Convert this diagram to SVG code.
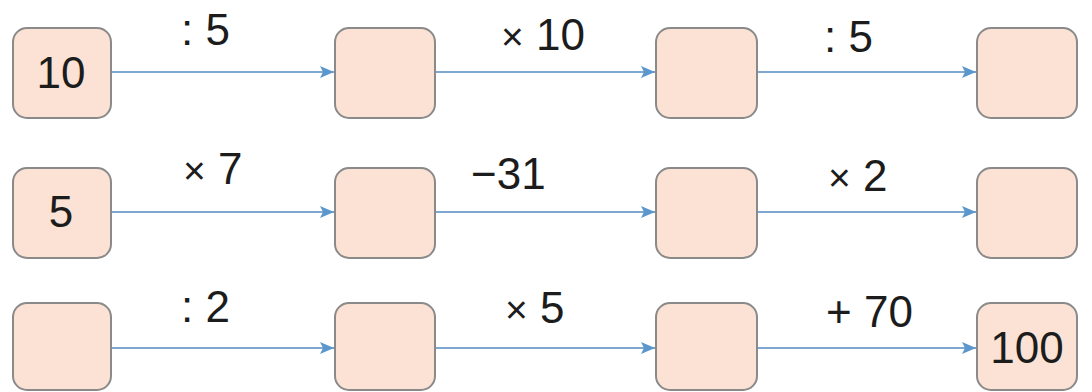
<svg xmlns="http://www.w3.org/2000/svg" width="1092" height="392" viewBox="0 0 1092 392">
<style>
.box{fill:#fbe2d4;stroke:#8a8a8a;stroke-width:2}
.num{font-family:"Liberation Sans",Arial,sans-serif;font-size:44px;fill:#1c1c1c;text-anchor:middle}
.lbl{font-family:"Liberation Sans",Arial,sans-serif;font-size:44px;fill:#1c1c1c}
.x{font-size:39px}
.edge{stroke:#7ea8cf;stroke-width:2.2;fill:none}
</style>
<defs>
<marker id="ah" markerWidth="14" markerHeight="12" refX="14" refY="6" orient="auto" markerUnits="userSpaceOnUse">
<path d="M0,0 L14,6 L0,12 L3,6 Z" fill="#5b97cc"/>
</marker>
</defs>
<rect width="1092" height="392" fill="#ffffff"/>
<g id="connectors">
<line class="edge" x1="112" y1="72" x2="334" y2="72" marker-end="url(#ah)"/>
<line class="edge" x1="436" y1="72" x2="655" y2="72" marker-end="url(#ah)"/>
<line class="edge" x1="758" y1="72" x2="976" y2="72" marker-end="url(#ah)"/>
<line class="edge" x1="112" y1="212" x2="334" y2="212" marker-end="url(#ah)"/>
<line class="edge" x1="436" y1="212" x2="655" y2="212" marker-end="url(#ah)"/>
<line class="edge" x1="758" y1="212" x2="976" y2="212" marker-end="url(#ah)"/>
<line class="edge" x1="112" y1="348" x2="334" y2="348" marker-end="url(#ah)"/>
<line class="edge" x1="436" y1="348" x2="655" y2="348" marker-end="url(#ah)"/>
<line class="edge" x1="758" y1="348" x2="976" y2="348" marker-end="url(#ah)"/>
<text class="lbl" x="181" y="45">: 5</text>
<text class="lbl" x="501" y="50"><tspan class="x">×</tspan> 10</text>
<text class="lbl" x="824" y="52">: 5</text>
<text class="lbl" x="183" y="184"><tspan class="x">×</tspan> 7</text>
<text class="lbl" x="471" y="189">−31</text>
<text class="lbl" x="828" y="191"><tspan class="x">×</tspan> 2</text>
<text class="lbl" x="181" y="322">: 2</text>
<text class="lbl" x="505" y="323"><tspan class="x">×</tspan> 5</text>
<text class="lbl" x="826" y="327">+ 70</text>
</g>
<g id="r1c1"><rect class="box" x="13" y="28" width="98" height="90" rx="14"/><text class="num" x="61" y="88">10</text></g>
<g id="r1c2"><rect class="box" x="335" y="28" width="100" height="90" rx="14"/></g>
<g id="r1c3"><rect class="box" x="656" y="28" width="101" height="90" rx="14"/></g>
<g id="r1c4"><rect class="box" x="977" y="28" width="100" height="90" rx="14"/></g>
<g id="r2c1"><rect class="box" x="13" y="168" width="98" height="90" rx="14"/><text class="num" x="61" y="227">5</text></g>
<g id="r2c2"><rect class="box" x="335" y="168" width="100" height="90" rx="14"/></g>
<g id="r2c3"><rect class="box" x="656" y="168" width="101" height="90" rx="14"/></g>
<g id="r2c4"><rect class="box" x="977" y="168" width="100" height="90" rx="14"/></g>
<g id="r3c1"><rect class="box" x="13" y="303" width="98" height="87" rx="14"/></g>
<g id="r3c2"><rect class="box" x="335" y="303" width="100" height="87" rx="14"/></g>
<g id="r3c3"><rect class="box" x="656" y="303" width="101" height="87" rx="14"/></g>
<g id="r3c4"><rect class="box" x="977" y="303" width="100" height="87" rx="14"/><text class="num" x="1027" y="363">100</text></g>
</svg>
